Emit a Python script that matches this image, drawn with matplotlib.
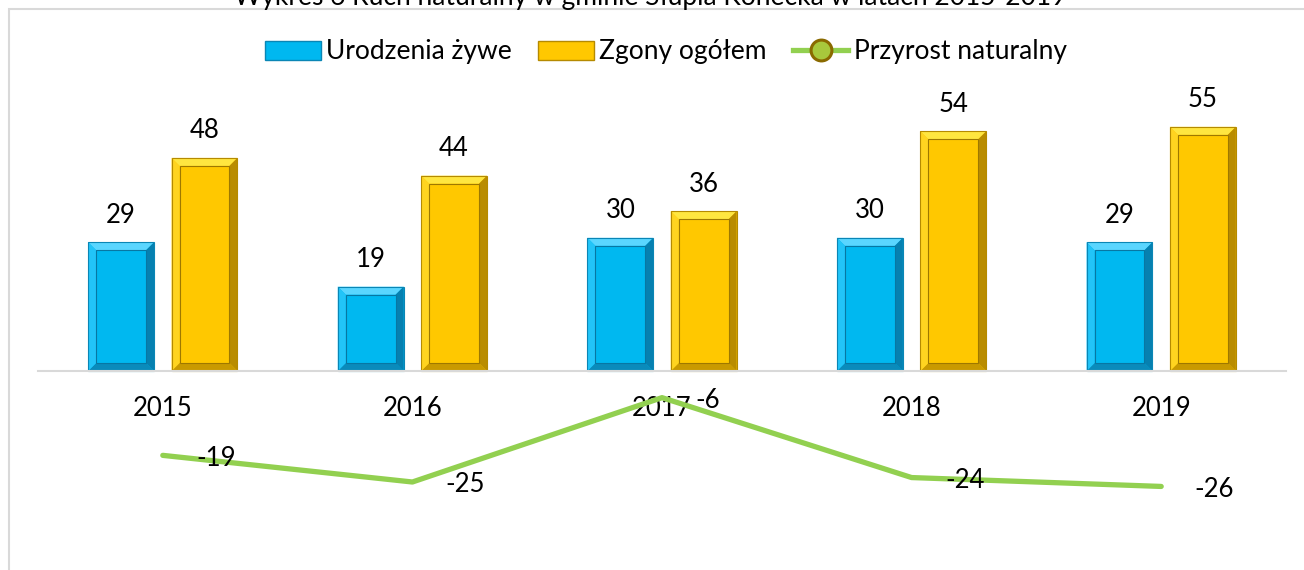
import matplotlib
matplotlib.use("Agg")
import matplotlib.pyplot as plt
import numpy as np
from matplotlib.patches import Polygon, Rectangle
from matplotlib.lines import Line2D

plt.rcParams['font.family'] = ['Lato', 'DejaVu Sans']

# data
years = ['2015', '2016', '2017', '2018', '2019']
urodzenia = [29, 19, 30, 30, 29]
zgony = [48, 44, 36, 54, 55]
przyrost = [-19, -25, -6, -24, -26]

title = 'Wykres 6 Ruch naturalny w gminie Słupia Konecka w latach 2015-2019'
series_names = ['Urodzenia żywe', 'Zgony ogółem', 'Przyrost naturalny']

W, H = 1304, 570
fig = plt.figure(figsize=(W / 100, H / 100), dpi=100)

# axes placed in pixel terms: plot from x=38..1286, top at y=20
ax_left, ax_right, ax_top = 38, 1286, 20
ax = fig.add_axes([ax_left / W, 0, (ax_right - ax_left) / W, (H - ax_top) / H])

px_per_unit = 4.44
zero_y = 371
ax.set_xlim(-0.5, 4.5)
ax.set_ylim(-(H - zero_y) / px_per_unit, (zero_y - ax_top) / px_per_unit)
px_per_x = (ax_right - ax_left) / 5.0

x = np.arange(len(years))
off, bw = 0.167, 0.264

blue = dict(face='#00B8F0', top='#5AD6FF', left='#22C4F8', right='#0680B0',
            bottom='#0A8BBB', edge='#0A86B5', inner='#0777A3')
gold = dict(face='#FFC800', top='#FFE640', left='#FFD420', right='#B98C00',
            bottom='#C99A00', edge='#B58A00', inner='#9E7800')


def bevel(rects, c):
    # draw the raised frame on top of each bar
    dx = 8 / px_per_x
    dy = 8 / px_per_unit
    for r in rects:
        x0, y0 = r.get_x(), r.get_y()
        x1, y1 = x0 + r.get_width(), y0 + r.get_height()
        ix0, iy0, ix1, iy1 = x0 + dx, y0 + dy, x1 - dx, y1 - dy
        bands = [
            ([(x0, y1), (x1, y1), (ix1, iy1), (ix0, iy1)], c['top']),
            ([(x0, y0), (x1, y0), (ix1, iy0), (ix0, iy0)], c['bottom']),
            ([(x0, y0), (x0, y1), (ix0, iy1), (ix0, iy0)], c['left']),
            ([(x1, y0), (x1, y1), (ix1, iy1), (ix1, iy0)], c['right']),
        ]
        for pts, col in bands:
            ax.add_patch(Polygon(pts, closed=True, facecolor=col, edgecolor='none', zorder=1.2))
        ax.add_patch(Rectangle((ix0, iy0), ix1 - ix0, iy1 - iy0, facecolor=c['face'],
                               edgecolor=c['inner'], linewidth=0.8, zorder=1.3))
        ax.add_patch(Rectangle((x0, y0), x1 - x0, y1 - y0, facecolor='none',
                               edgecolor=c['edge'], linewidth=0.8, zorder=1.4))


b1 = ax.bar(x - off, urodzenia, bw, color=blue['face'], zorder=1)
b2 = ax.bar(x + off, zgony, bw, color=gold['face'], zorder=1)
bevel(b1, blue)
bevel(b2, gold)

for xi, v in zip(x - off, urodzenia):
    ax.annotate(str(v), (xi, v), xytext=(0, 19.5), textcoords='offset points',
                ha='center', va='center', fontsize=18.5, color='black')
for xi, v in zip(x + off, zgony):
    ax.annotate(str(v), (xi, v), xytext=(0, 19.5), textcoords='offset points',
                ha='center', va='center', fontsize=18.5, color='black')

ax.plot(x, przyrost, color='#92D050', linewidth=3.8, solid_capstyle='round',
        solid_joinstyle='round', zorder=2)
for xi, v in zip(x, przyrost):
    ax.annotate(str(v), (xi, v), xytext=(24, -2), textcoords='offset points',
                ha='left', va='center', fontsize=18.5, color='black', zorder=3)

# axis styling
for s in ['top', 'right', 'left']:
    ax.spines[s].set_visible(False)
ax.spines['bottom'].set_position(('data', 0))
ax.spines['bottom'].set_color('#D9D9D9')
ax.spines['bottom'].set_linewidth(1.5)
ax.spines['bottom'].set_zorder(1.5)
ax.set_yticks([])
ax.set_xticks(x)
ax.set_xticklabels(years, fontsize=18.5)
ax.tick_params(axis='x', length=0, pad=18)
ax.patch.set_visible(False)

# legend
handles = [
    Rectangle((0, 0), 1, 1, facecolor=blue['face'], edgecolor=blue['edge'], linewidth=1),
    Rectangle((0, 0), 1, 1, facecolor=gold['face'], edgecolor=gold['edge'], linewidth=1),
    Line2D([], [], color='#92D050', linewidth=3.8, marker='o', markersize=15,
           markerfacecolor='#A8C83C', markeredgecolor='#8A6A00', markeredgewidth=2.2),
]
fig.legend(handles, series_names, loc='center', bbox_to_anchor=(666 / W, 1 - 52 / H),
           ncol=3, frameon=False, fontsize=19, handlelength=2.1, handleheight=0.7,
           handletextpad=0.2, columnspacing=1.0)

# chart border (top and left edges visible)
fig.add_artist(Rectangle((9 / W, -0.1), 1.2, 1.1 - 9 / H, transform=fig.transFigure,
                         facecolor='none', edgecolor='#D9D9D9', linewidth=1.5))

# title, cut off by the top edge as in the source
fig.text(650 / W, 1 - 5 / H, title, ha='center', va='baseline', fontsize=19, color='black')

fig.savefig('out.png', dpi=100)
